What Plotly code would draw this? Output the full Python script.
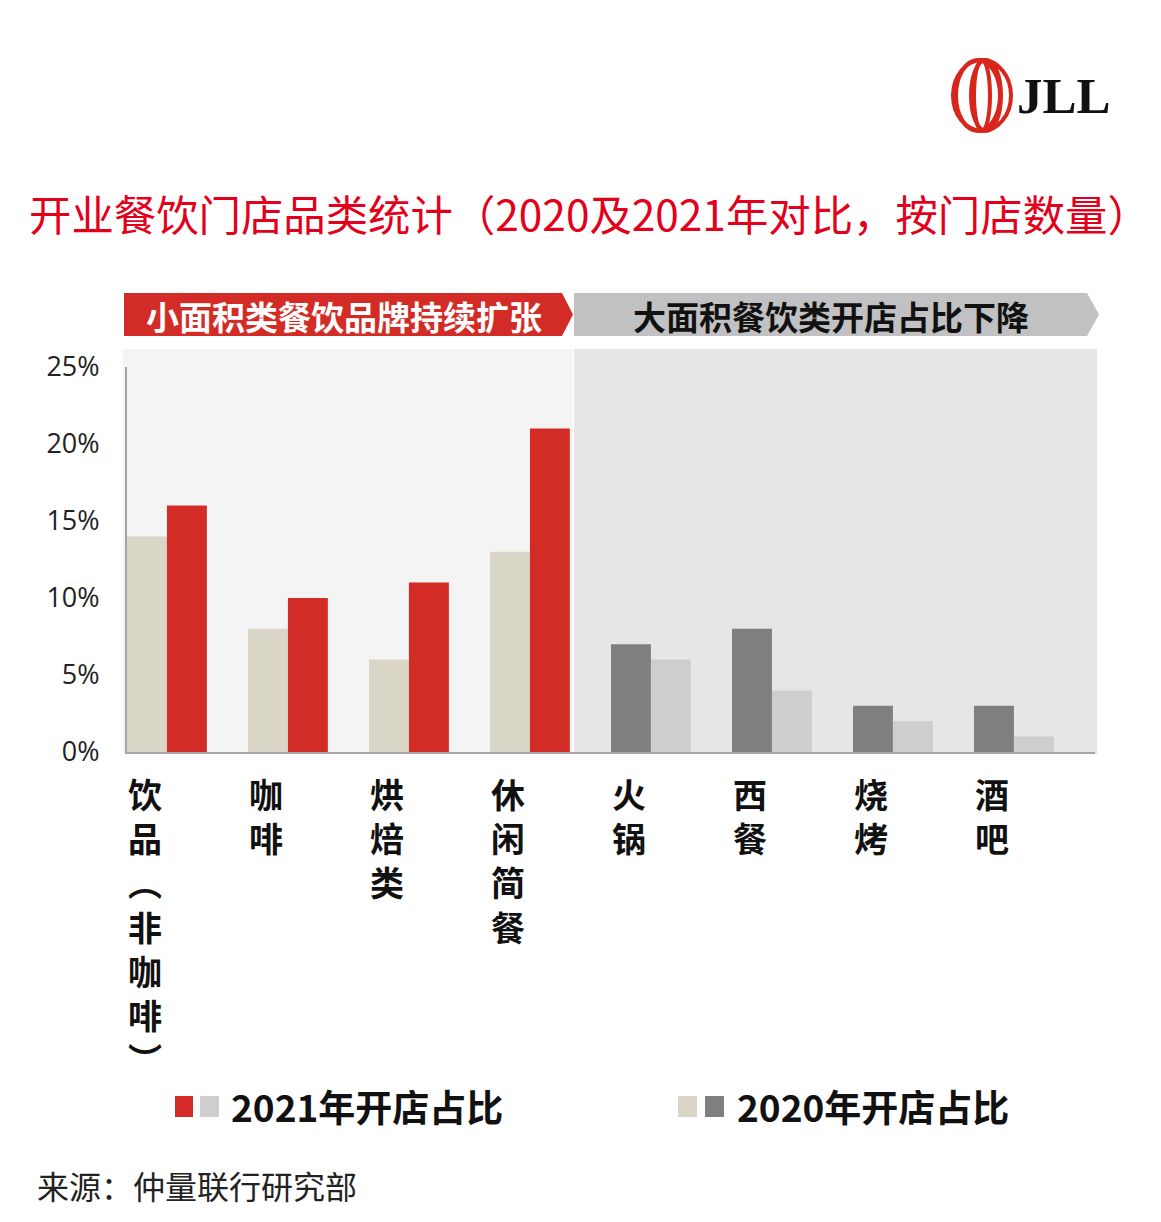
import plotly.graph_objects as go

# ---- data ----
categories = ["饮品︵非咖啡︶", "咖啡", "烘焙类", "休闲简餐", "火锅", "西餐", "烧烤", "酒吧"]
share_2020 = [14, 8, 6, 13, 7, 8, 3, 3]
share_2021 = [16, 10, 11, 21, 6, 4, 2, 1]
y_ticks = [0, 5, 10, 15, 20, 25]
y_tick_labels = ["0%", "5%", "10%", "15%", "20%", "25%"]
banner_left = "小面积类餐饮品牌持续扩张"
banner_right = "大面积餐饮类开店占比下降"
legend_2021 = "2021年开店占比"
legend_2020 = "2020年开店占比"
title_text = "开业餐饮门店品类统计（2020及2021年对比，按门店数量）"
source_text = "来源：仲量联行研究部"

# ---- styles ----
W, H = 1161, 1222
PAD = 8  # default page body margin
L, R, T, B = 127, 1095, 367, 752
RED = "#d32c27"
BEIGE = "#d9d6c8"
DGRAY = "#7f7f7f"
LGRAY = "#cfcecf"
CJK = "Noto Sans CJK SC"

colors_2020 = [BEIGE] * 4 + [DGRAY] * 4
colors_2021 = [RED] * 4 + [LGRAY] * 4


def px(x):
    return (x - L) / (R - L)


def py(y):
    return (B - y) / (B - T)


x_idx = list(range(len(categories)))

fig = go.Figure()
fig.add_trace(go.Bar(x=x_idx, y=share_2020, offset=-0.5, width=0.33,
                     marker=dict(color=colors_2020, line=dict(width=0)),
                     name="2020", hoverinfo="skip"))
fig.add_trace(go.Bar(x=x_idx, y=share_2021, offset=-0.17, width=0.33,
                     marker=dict(color=colors_2021, line=dict(width=0)),
                     name="2021", hoverinfo="skip"))

shapes = []
# panels
shapes.append(dict(type="rect", xref="paper", yref="paper", layer="below",
                   x0=px(123), x1=px(573), y0=py(754), y1=py(349),
                   fillcolor="#f4f4f4", line=dict(width=0)))
shapes.append(dict(type="rect", xref="paper", yref="paper", layer="below",
                   x0=px(574), x1=px(1097), y0=py(754), y1=py(349),
                   fillcolor="#e6e6e6", line=dict(width=0)))


def arrow(x0, x1, xt, y0, y1):
    ym = (y0 + y1) / 2
    pts = [(x0, y0), (x1, y0), (xt, ym), (x1, y1), (x0, y1)]
    s = "M " + " L ".join(f"{px(a):.5f},{py(b):.5f}" for a, b in pts) + " Z"
    return s


shapes.append(dict(type="path", xref="paper", yref="paper",
                   path=arrow(124, 562, 573, 293, 336),
                   fillcolor=RED, line=dict(width=0)))
shapes.append(dict(type="path", xref="paper", yref="paper",
                   path=arrow(574, 1087, 1099, 293, 336),
                   fillcolor="#c1c1c3", line=dict(width=0)))

# legend squares
for (a, b, c) in [(175, 193, RED), (200, 219, LGRAY), (678, 697, BEIGE), (705, 724, DGRAY)]:
    shapes.append(dict(type="rect", xref="paper", yref="paper",
                       x0=px(a), x1=px(b), y0=py(1117), y1=py(1096),
                       fillcolor=c, line=dict(width=0)))

# logo rings
for (w, off) in [(58, 0), (44, -4), (30, 4), (16, 0)]:
    cx = 982 + off
    shapes.append(dict(type="circle", xref="paper", yref="paper",
                       x0=px(cx - w / 2), x1=px(cx + w / 2),
                       y0=py(131), y1=py(60),
                       fillcolor="rgba(0,0,0,0)", line=dict(color="#d9261c", width=4)))

annotations = []
annotations.append(dict(xref="paper", yref="paper", x=px(27), y=py(212),
                        xanchor="left", yanchor="middle", showarrow=False,
                        text=title_text, font=dict(family=CJK, size=42.4, color="#e3001b")))
annotations.append(dict(xref="paper", yref="paper", x=px(1015), y=py(96),
                        xanchor="left", yanchor="middle", showarrow=False,
                        text="<b>JLL</b>", font=dict(family="Liberation Serif", size=51, color="#111111")))
annotations.append(dict(xref="paper", yref="paper", x=px(344), y=py(316),
                        xanchor="center", yanchor="middle", showarrow=False,
                        text="<b>" + banner_left + "</b>", font=dict(family=CJK, size=33, color="white")))
annotations.append(dict(xref="paper", yref="paper", x=px(831), y=py(316),
                        xanchor="center", yanchor="middle", showarrow=False,
                        text="<b>" + banner_right + "</b>", font=dict(family=CJK, size=33, color="#111111")))

for i, c in enumerate(categories):
    annotations.append(dict(xref="x", yref="paper", x=i - 0.5 + 0.15, y=py(767),
                            xanchor="center", yanchor="top", showarrow=False,
                            text="<b>" + "<br>".join(list(c)) + "</b>",
                            font=dict(family=CJK, size=34, color="#111111")))

annotations.append(dict(xref="paper", yref="paper", x=px(229), y=py(1106),
                        xanchor="left", yanchor="middle", showarrow=False,
                        text="<b>" + legend_2021 + "</b>", font=dict(family=CJK, size=37, color="#111111")))
annotations.append(dict(xref="paper", yref="paper", x=px(735), y=py(1106),
                        xanchor="left", yanchor="middle", showarrow=False,
                        text="<b>" + legend_2020 + "</b>", font=dict(family=CJK, size=37, color="#111111")))
annotations.append(dict(xref="paper", yref="paper", x=px(35), y=py(1185),
                        xanchor="left", yanchor="middle", showarrow=False,
                        text=source_text, font=dict(family=CJK, size=32, color="#222222")))

fig.update_layout(
    width=W - 2 * PAD, height=H - 2 * PAD,
    margin=dict(l=L - PAD, r=W - PAD - R, t=T - PAD, b=H - PAD - B, pad=0),
    paper_bgcolor="white", plot_bgcolor="rgba(0,0,0,0)",
    barmode="overlay", showlegend=False, hovermode=False,
    shapes=shapes, annotations=annotations,
    xaxis=dict(range=[-0.5, 7.5], showticklabels=False, ticks="", showgrid=False,
               zeroline=False, showline=True, linecolor="#a6a6a6", linewidth=2),
    yaxis=dict(range=[0, 25], tickvals=y_ticks, ticktext=y_tick_labels, showgrid=False,
               zeroline=False, showline=True, linecolor="#a6a6a6", linewidth=2,
               ticks="", ticklabelstandoff=20,
               tickfont=dict(family="Open Sans", size=27, color="#222222")),
)

fig.write_html("out.html")
